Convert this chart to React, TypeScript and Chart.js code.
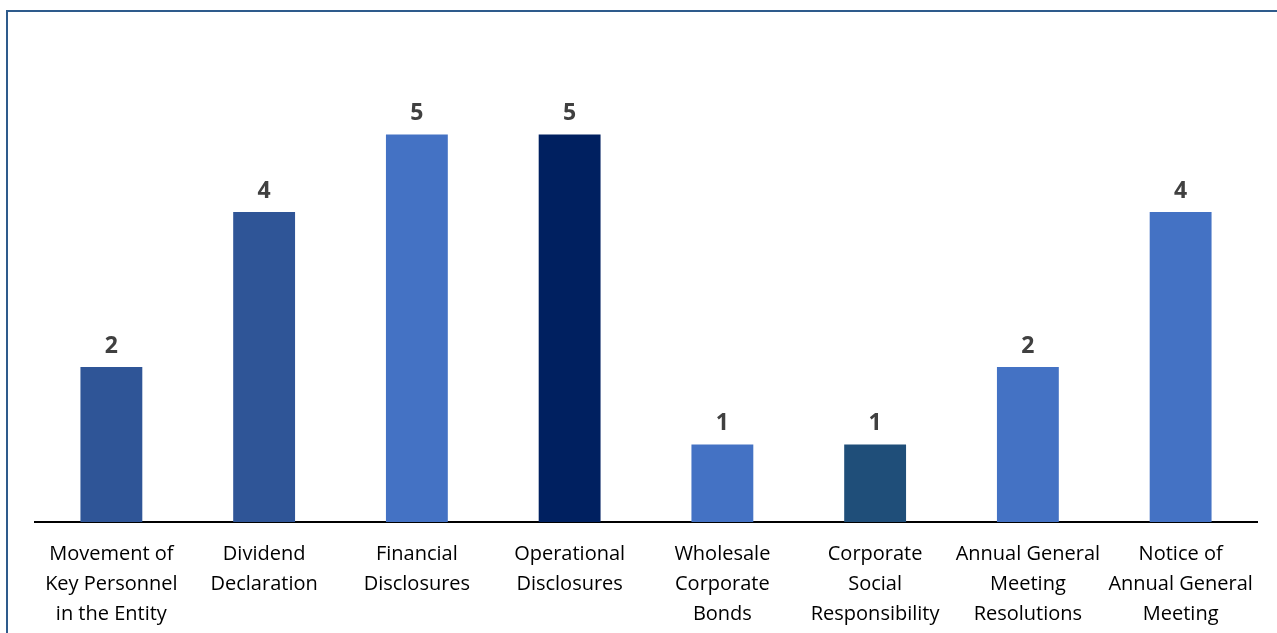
import React, { useEffect, useRef } from "react";
import { Chart, registerables } from "chart.js";

Chart.register(...registerables);

const categories: string[][] = [
  ["Movement of", "Key Personnel", "in the Entity"],
  ["Dividend", "Declaration"],
  ["Financial", "Disclosures"],
  ["Operational", "Disclosures"],
  ["Wholesale", "Corporate", "Bonds"],
  ["Corporate", "Social", "Responsibility"],
  ["Annual General", "Meeting", "Resolutions"],
  ["Notice of", "Annual General", "Meeting"],
];
const values: number[] = [2, 4, 5, 5, 1, 1, 2, 4];
const barColors: string[] = [
  "#2F5597",
  "#2F5597",
  "#4472C4",
  "#002060",
  "#4472C4",
  "#1F4E79",
  "#4472C4",
  "#4472C4",
];

const FONT = "'Open Sans', Lato, sans-serif";

const valueLabels = {
  id: "valueLabels",
  afterDatasetsDraw(chart: any) {
    const ctx = chart.ctx;
    const meta = chart.getDatasetMeta(0);
    ctx.save();
    ctx.font = `bold 23px ${FONT}`;
    ctx.fillStyle = "#404040";
    ctx.textAlign = "center";
    ctx.textBaseline = "middle";
    meta.data.forEach((el: any, i: number) => {
      ctx.fillText(String(values[i]), el.x, el.y - 21);
    });
    ctx.restore();
  },
};

export default function App() {
  const ref = useRef<HTMLCanvasElement | null>(null);
  useEffect(() => {
    document.body.style.margin = "0";
    if (!ref.current) return;
    const chart = new Chart(ref.current, {
      type: "bar",
      data: {
        labels: categories,
        datasets: [
          {
            data: values,
            backgroundColor: barColors,
            borderWidth: 0,
            categoryPercentage: 1,
            barPercentage: 0.405,
          },
        ],
      },
      plugins: [valueLabels],
      options: {
        animation: false,
        responsive: false,
        maintainAspectRatio: false,
        layout: { padding: { left: 35, right: 20, top: 57, bottom: 5 } },
        plugins: { legend: { display: false }, tooltip: { enabled: false } },
        scales: {
          y: { display: false, min: 0, max: 6 },
          x: {
            grid: { display: false },
            border: { display: true, color: "#000000", width: 2 },
            ticks: {
              color: "#000000",
              font: { family: FONT, size: 20, lineHeight: 1.5 },
              padding: 9,
              maxRotation: 0,
              autoSkip: false,
            },
          },
        },
      },
    });
    return () => chart.destroy();
  }, []);
  return (
    <div style={{ position: "relative", width: 1277, height: 633, overflow: "hidden", background: "#fff" }}>
      <div
        style={{
          position: "absolute",
          left: 6,
          top: 10,
          width: 1400,
          height: 800,
          border: "2px solid #2E5B8C",
          boxSizing: "border-box",
        }}
      />
      <canvas ref={ref} width={1277} height={643} style={{ position: "absolute", left: 0, top: 0 }} />
    </div>
  );
}
